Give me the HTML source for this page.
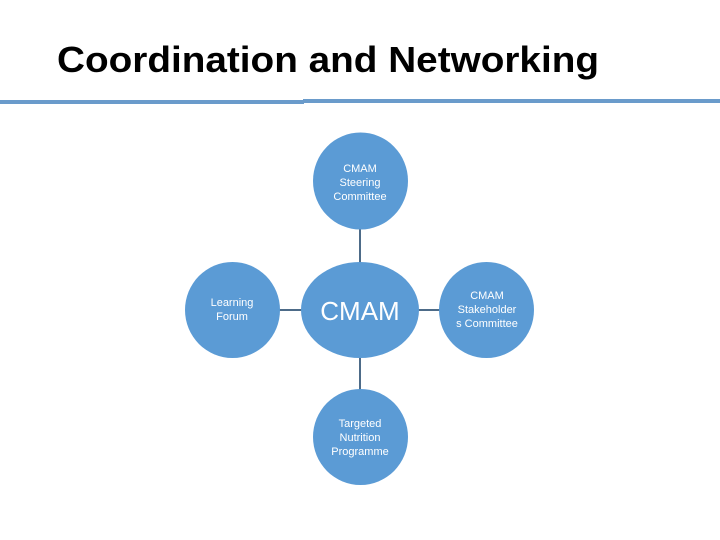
<!DOCTYPE html>
<html><head><style>html,body{margin:0;padding:0;background:#fff}svg{display:block}</style></head>
<body>
<svg width="720" height="540" xmlns="http://www.w3.org/2000/svg" font-family="Liberation Sans, sans-serif">
<rect width="720" height="540" fill="#fff"/>
<text x="57" y="72" font-size="36" font-weight="bold" fill="#000" textLength="542" lengthAdjust="spacingAndGlyphs">Coordination and Networking</text>
<rect x="0" y="100" width="304" height="4" fill="#6a9bcb"/>
<rect x="303" y="99" width="417" height="4" fill="#6a9bcb"/>
<g stroke="#4d6b88" stroke-width="2">
<line x1="360" y1="229" x2="360" y2="263"/>
<line x1="360" y1="356" x2="360" y2="404"/>
<line x1="279" y1="310" x2="302" y2="310"/>
<line x1="418" y1="310" x2="440" y2="310"/>
</g>
<g fill="#5b9bd5">
<ellipse cx="360.5" cy="181" rx="47.5" ry="48.5"/>
<ellipse cx="360" cy="310" rx="59" ry="48"/>
<ellipse cx="232.5" cy="310" rx="47.5" ry="48"/>
<ellipse cx="486.5" cy="310" rx="47.5" ry="48"/>
<ellipse cx="360.5" cy="437" rx="47.5" ry="48"/>
</g>
<g fill="#fff" font-size="11" text-anchor="middle">
<text x="360" y="172">CMAM</text>
<text x="360" y="186">Steering</text>
<text x="360" y="200">Committee</text>
<text x="232" y="306">Learning</text>
<text x="232" y="320">Forum</text>
<text x="487" y="299">CMAM</text>
<text x="487" y="313">Stakeholder</text>
<text x="487" y="327">s Committee</text>
<text x="360" y="427">Targeted</text>
<text x="360" y="441">Nutrition</text>
<text x="360" y="455">Programme</text>
<text x="360" y="320" font-size="26">CMAM</text>
</g>
</svg>
</body></html>
